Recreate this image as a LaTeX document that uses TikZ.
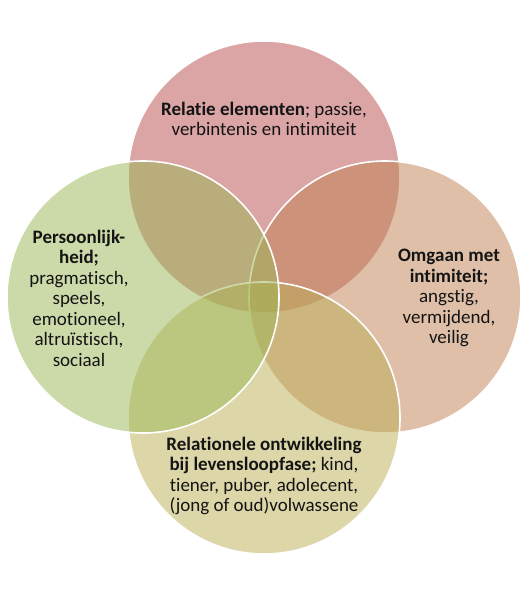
\documentclass[tikz,border=0pt]{standalone}
\usepackage{fontspec}
\setmainfont[Ligatures=NoCommon]{Carlito}
\definecolor{ctop}{RGB}{185,75,77}
\definecolor{cright}{RGB}{193,129,81}
\definecolor{cbottom}{RGB}{187,175,85}
\definecolor{cleft}{RGB}{155,183,85}
\definecolor{txt}{RGB}{20,20,20}
\begin{document}
\begin{tikzpicture}[x=1pt,y=1pt,
  venn/.style={circle,minimum size=272pt,inner sep=0pt,draw=white,line width=1.6pt,fill opacity=0.5,draw opacity=1},
  lbl/.style={align=center,text=txt,font=\fontsize{19}{20.5}\selectfont,inner sep=0pt}]
\useasboundingbox (0,0) rectangle (528,-595);
\fill[white] (0,0) rectangle (528,-595);
\node[venn,fill=ctop] (ctop) at (264,-177) {};
\node[venn,fill=cright] (cright) at (385,-297) {};
\node[venn,fill=cbottom] (cbottom) at (264,-418) {};
\node[venn,fill=cleft] (cleft) at (143,-297) {};
\node[lbl] (ttop) at (264,-119) {\textbf{Relatie elementen}; passie,\\verbintenis en intimiteit};
\node[lbl] (tleft) at (79,-298) {\textbf{Persoonlijk-}\\\textbf{heid;}\\pragmatisch,\\speels,\\emotioneel,\\altruïstisch,\\sociaal};
\node[lbl] (tright) at (449,-298) {\textbf{Omgaan met}\\\textbf{intimiteit;}\\angstig,\\vermijdend,\\veilig};
\node[lbl] (tbottom) at (264,-476) {\textbf{Relationele ontwikkeling}\\\textbf{bij levensloopfase;} kind,\\tiener, puber, adolecent,\\(jong of oud)volwassene};
\end{tikzpicture}
\end{document}
